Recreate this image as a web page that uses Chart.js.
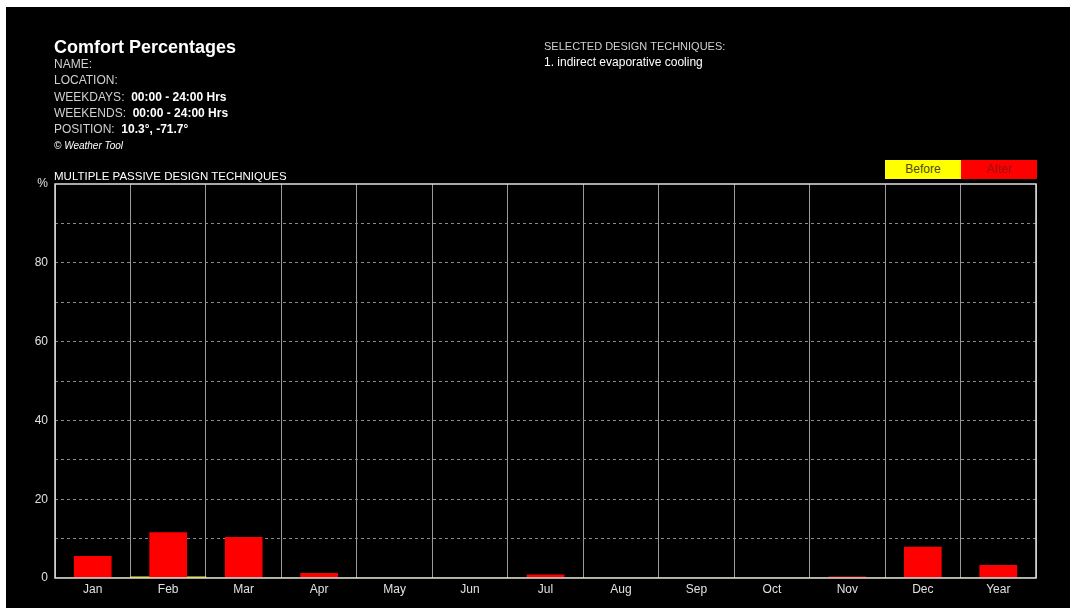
<!DOCTYPE html>
<html>
<head>
<meta charset="utf-8">
<script src="https://cdn.jsdelivr.net/npm/chart.js@4"></script>
<style>
  body { margin: 0; background: #fff; width: 1070px; height: 608px; overflow: hidden; position: relative; font-family: "Liberation Sans", Arial, sans-serif; }
  #panel { position: absolute; left: 6px; top: 7px; width: 1064px; height: 601px; background: #000; }
  #chart { position: absolute; left: 0; top: 0; }
  .txt { position: absolute; color: #d0d0d0; font-size: 12px; white-space: nowrap; line-height: 14px; }
  .txt b { color: #fff; }
  #title { left: 54px; top: 37px; font-size: 18px; font-weight: bold; color: #fff; line-height: 20px; }
  .legend { position: absolute; top: 160px; height: 19px; width: 76px; text-align: center; font-size: 12px; line-height: 19px; }
</style>
</head>
<body>
<div id="panel"></div>
<canvas id="chart" width="1070" height="608"></canvas>

<div class="txt" id="title">Comfort Percentages</div>
<div class="txt" style="left:54px;top:57px">NAME:</div>
<div class="txt" style="left:54px;top:73px">LOCATION:</div>
<div class="txt" style="left:54px;top:90px">WEEKDAYS:&nbsp; <b>00:00 - 24:00 Hrs</b></div>
<div class="txt" style="left:54px;top:106px">WEEKENDS:&nbsp; <b>00:00 - 24:00 Hrs</b></div>
<div class="txt" style="left:54px;top:122px">POSITION:&nbsp; <b>10.3°, -71.7°</b></div>
<div class="txt" style="left:54px;top:139px;font-size:10px;font-style:italic;color:#fff">© Weather Tool</div>
<div class="txt" style="left:54px;top:169px;font-size:11.5px;color:#fff">MULTIPLE PASSIVE DESIGN TECHNIQUES</div>

<div class="txt" style="left:544px;top:39px;font-size:11px">SELECTED DESIGN TECHNIQUES:</div>
<div class="txt" style="left:544px;top:55px;color:#fff">1. indirect evaporative cooling</div>

<div class="legend" style="left:885px;background:#ffff00;color:#4a4a10">Before</div>
<div class="legend" style="left:961px;background:#ff0000;color:#a01010">After</div>

<script>
const categories = ["Jan", "Feb", "Mar", "Apr", "May", "Jun", "Jul", "Aug", "Sep", "Oct", "Nov", "Dec", "Year"];
const beforeValues = [0, 0.3, 0, 0, 0, 0, 0, 0, 0, 0, 0, 0, 0];
const afterValues = [5.6, 11.6, 10.4, 1.3, 0, 0, 0.9, 0, 0, 0, 0.4, 7.9, 3.3];
const yTickLabels = { 0: "0", 20: "20", 40: "40", 60: "60", 80: "80", 100: "%" };

// light frame round the plot area, drawn over the grid and bars
const framePlugin = {
  id: "frame",
  afterDraw(chart) {
    const { ctx, chartArea } = chart;
    ctx.save();
    ctx.setLineDash([]);
    ctx.strokeStyle = "#e0e0e0";
    ctx.lineWidth = 1.5;
    ctx.strokeRect(chartArea.left, chartArea.top, chartArea.right - chartArea.left, chartArea.bottom - chartArea.top);
    ctx.restore();
  },
};

new Chart(document.getElementById("chart").getContext("2d"), {
  type: "bar",
  data: {
    labels: categories,
    datasets: [
      {
        label: "After",
        data: afterValues,
        backgroundColor: "#ff0000",
        borderWidth: 0,
        grouped: false,
        barPercentage: 0.5,
        categoryPercentage: 1,
        order: 1,
      },
      {
        label: "Before",
        data: beforeValues,
        backgroundColor: "#ffff00",
        borderWidth: 0,
        grouped: false,
        barPercentage: 1,
        categoryPercentage: 1,
        order: 2,
      },
    ],
  },
  options: {
    responsive: false,
    animation: false,
    devicePixelRatio: 1,
    layout: { padding: { left: 0, top: 184, right: 34, bottom: 0 } },
    plugins: { legend: { display: false }, tooltip: { enabled: false } },
    scales: {
      x: {
        afterFit: (scale) => { scale.height = 30; },
        grid: { offset: true, color: "#9a9a9a", lineWidth: 1, drawTicks: false },
        border: { display: false },
        ticks: {
          color: "#e0e0e0",
          padding: 4,
          maxRotation: 0,
          font: { family: "Liberation Sans", size: 12 },
        },
      },
      y: {
        min: 0,
        max: 100,
        afterFit: (scale) => { scale.width = 55; },
        grid: {
          color: (ctx) => (ctx.tick && (ctx.tick.value === 0 || ctx.tick.value === 100) ? "rgba(0,0,0,0)" : "#8a8a8a"),
          lineWidth: 1,
          drawTicks: false,
        },
        border: { display: false, dash: [3, 3] },
        ticks: {
          stepSize: 10,
          color: "#e0e0e0",
          padding: 7,
          font: { family: "Liberation Sans", size: 12 },
          callback: (v) => (yTickLabels[v] !== undefined ? yTickLabels[v] : ""),
        },
      },
    },
  },
  plugins: [framePlugin],
});
</script>
</body>
</html>
